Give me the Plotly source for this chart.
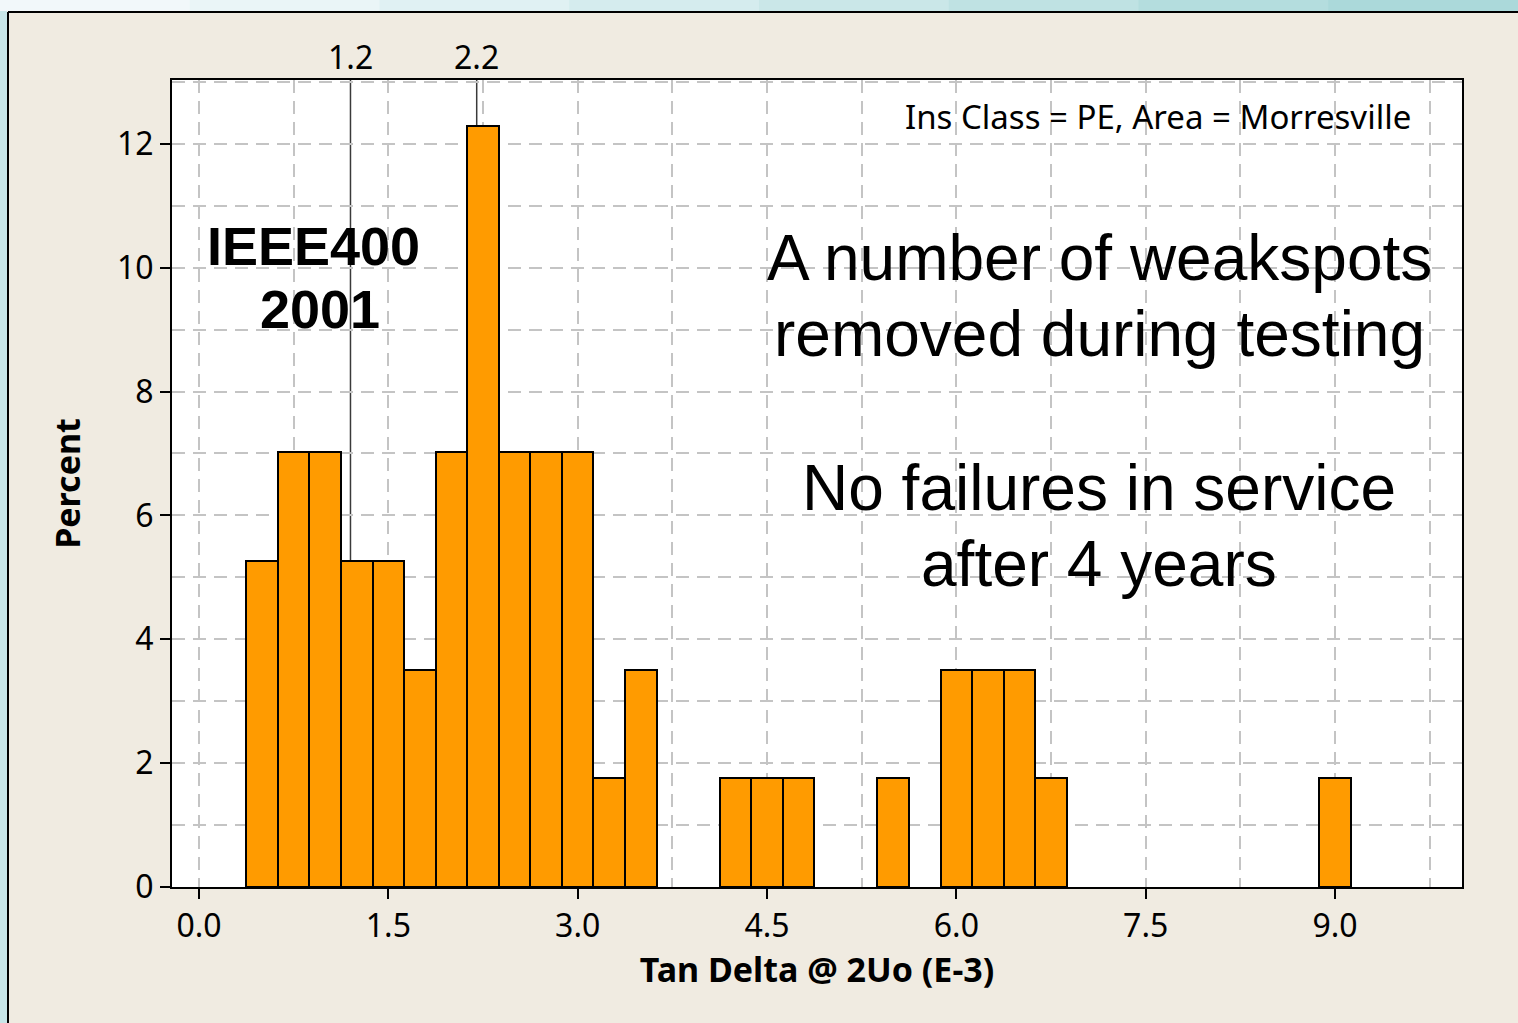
import plotly.graph_objects as go

# ---- data ----
bin_centers = [0.50, 0.75, 1.00, 1.25, 1.50, 1.75, 2.00, 2.25, 2.50, 2.75, 3.00, 3.25, 3.50,
               4.25, 4.50, 4.75, 5.50, 6.00, 6.25, 6.50, 6.75, 9.00]
percent = [5.263, 7.018, 7.018, 5.263, 5.263, 3.509, 7.018, 12.281, 7.018, 7.018, 7.018, 1.754, 3.509,
           1.754, 1.754, 1.754, 1.754, 3.509, 3.509, 3.509, 1.754, 1.754]
bin_width = 0.25
ref_lines = [1.2, 2.2]
ref_labels = ["1.2", "2.2"]
x_ticks = [0.0, 1.5, 3.0, 4.5, 6.0, 7.5, 9.0]
y_ticks = [0, 2, 4, 6, 8, 10, 12]

W, H = 1518, 1023
ML, MR, MT, MB = 172, 56, 80, 136
PW, PH = W - ML - MR, H - MT - MB


def px2x(px):
    return (px - ML) / PW


def py2y(py):
    return (H - MB - py) / PH


BEIGE = "#F0EBE1"
GRID = "#C4C4C4"
TFONT = "Noto Sans"
DASH = "13px,8px"

fig = go.Figure()
fig.add_trace(go.Bar(
    x=bin_centers, y=percent, width=bin_width,
    marker=dict(color="#FF9B00", line=dict(color="black", width=2)),
    showlegend=False,
))

shapes = []
# reference lines behind bars
for v in ref_lines:
    shapes.append(dict(type="line", xref="x", yref="paper", x0=v, x1=v, y0=0, y1=1,
                       line=dict(color="#3a3a3a", width=1.5), layer="below"))

# background decoration: blue strips at left and top, black panel border
top_cols = ["#F2F8FA", "#EAF5F7", "#E0F1F3", "#D5ECEE", "#CAE7E8", "#BFE2E3", "#B4DDDE", "#ABD9DA"]
n = len(top_cols)
for i, c in enumerate(top_cols):
    shapes.append(dict(type="rect", xref="paper", yref="paper",
                       x0=px2x(W * i / n), x1=px2x(W * (i + 1) / n + 1),
                       y0=py2y(11), y1=py2y(-1), fillcolor=c, line=dict(width=0), layer="above"))
shapes.append(dict(type="rect", xref="paper", yref="paper",
                   x0=px2x(-1), x1=px2x(7), y0=py2y(H + 1), y1=py2y(11),
                   fillcolor="#C8E6E8", line=dict(width=0), layer="above"))
shapes.append(dict(type="line", xref="paper", yref="paper",
                   x0=px2x(8), x1=px2x(W + 2), y0=py2y(12), y1=py2y(12),
                   line=dict(color="black", width=2), layer="above"))
shapes.append(dict(type="line", xref="paper", yref="paper",
                   x0=px2x(8), x1=px2x(8), y0=py2y(12), y1=py2y(H + 2),
                   line=dict(color="black", width=2), layer="above"))

annotations = []
for v, t in zip(ref_lines, ref_labels):
    annotations.append(dict(x=v, y=1, xref="x", yref="paper", text=t, showarrow=False,
                            xanchor="center", yanchor="bottom", yshift=0,
                            font=dict(family=TFONT, size=32, color="black")))

annotations.append(dict(x=px2x(1413), y=py2y(116), xref="paper", yref="paper",
                        text="Ins Class = PE, Area = Morresville", showarrow=False,
                        xanchor="right", yanchor="middle",
                        font=dict(family=TFONT, size=33, color="black")))

big = [("IEEE400", 313, 246, 54, True), ("2001", 320, 309, 54, True),
       ("A number of weakspots", 1099, 258, 64, False),
       ("removed during testing", 1099, 334, 64, False),
       ("No failures in service", 1099, 488, 64, False),
       ("after 4 years", 1099, 564, 64, False)]
for t, cx, cy, fs, bold in big:
    annotations.append(dict(x=px2x(cx), y=py2y(cy), xref="paper", yref="paper",
                            text=f"<b>{t}</b>" if bold else t, showarrow=False,
                            xanchor="center", yanchor="middle",
                            font=dict(family="Liberation Sans", size=fs, color="black")))

axis_common = dict(showline=True, linecolor="black", linewidth=2, mirror=True,
                   ticks="outside", ticklen=10, tickwidth=2, tickcolor="black",
                   showgrid=True, gridcolor=GRID, gridwidth=2, griddash=DASH,
                   zeroline=False,
                   tickfont=dict(family=TFONT, size=32, color="black"))

fig.update_layout(
    width=W, height=H,
    margin=dict(l=ML, r=MR, t=MT, b=MB),
    paper_bgcolor=BEIGE, plot_bgcolor="white",
    bargap=0,
    shapes=shapes, annotations=annotations,
    xaxis=dict(range=[-0.214, 10.006], tickvals=x_ticks, tickformat=".1f",
               minor=dict(dtick=0.75, tick0=0, showgrid=True, gridcolor=GRID,
                          gridwidth=2, griddash=DASH, ticks=""),
               title=dict(text="<b>Tan Delta @ 2Uo (E-3)</b>", standoff=8,
                          font=dict(family=TFONT, size=34, color="black")),
               **axis_common),
    yaxis=dict(range=[0, 13.03], tickvals=y_ticks,
               minor=dict(dtick=1, tick0=0, showgrid=True, gridcolor=GRID,
                          gridwidth=2, griddash=DASH, ticks=""),
               title=dict(text="<b>Percent</b>", standoff=26,
                          font=dict(family=TFONT, size=34, color="black")),
               **axis_common),
)

fig.write_html("out.html", config={"displayModeBar": False},
               post_script="document.body.style.margin='0';document.body.style.overflow='hidden';")
